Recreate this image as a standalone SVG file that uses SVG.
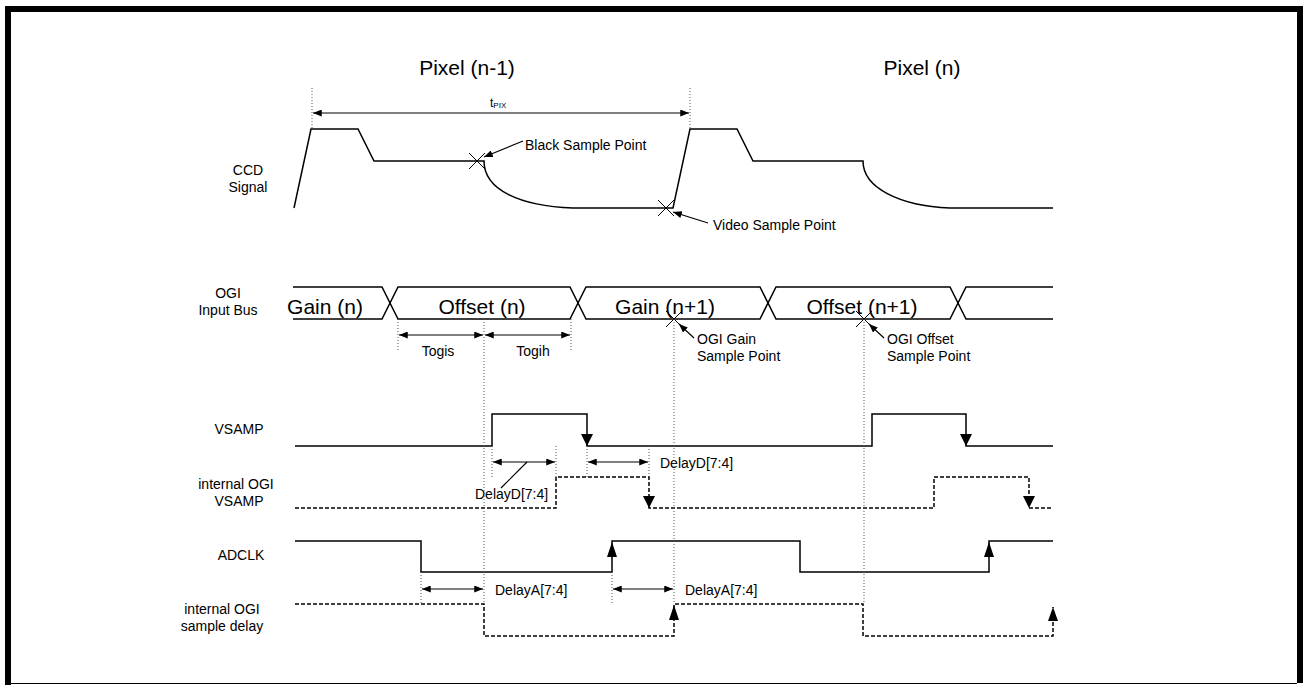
<svg xmlns="http://www.w3.org/2000/svg" width="1304" height="685" viewBox="0 0 1304 685">
<defs>
<style>
text{font-family:"Liberation Sans",Arial,sans-serif;fill:#000}
.big{font-size:21px}
.lbl{font-size:14px}
.mid{text-anchor:middle}
.sig{fill:none;stroke:#000;stroke-width:1.5}
.dash{fill:none;stroke:#000;stroke-width:1.5;stroke-dasharray:4 2}
.dot{fill:none;stroke:#555;stroke-width:1;stroke-dasharray:1 2}
.dim{fill:none;stroke:#000;stroke-width:1.2;marker-start:url(#ah);marker-end:url(#ah)}
.lead{fill:none;stroke:#000;stroke-width:1.2}
.ptr{fill:none;stroke:#000;stroke-width:1.2;marker-end:url(#ah)}
.x{fill:none;stroke:#000;stroke-width:1}
</style>
<marker id="ah" viewBox="0 0 10 8" refX="10" refY="4" markerWidth="9" markerHeight="7" markerUnits="userSpaceOnUse" orient="auto-start-reverse">
<path d="M0,0 L10,4 L0,8 Z" fill="#000"/>
</marker>
</defs>
<rect width="1304" height="685" fill="#fff"/>
<g id="frame">
<rect x="5" y="6" width="6" height="679" fill="#000"/>
<rect x="5" y="6" width="1298" height="6" fill="#000"/>
<rect x="1297" y="6" width="6" height="677" fill="#000"/>
<rect x="11" y="683" width="1286" height="1" fill="#000"/>
</g>
<g id="titles">
<text class="big mid" x="467" y="75">Pixel (n-1)</text>
<text class="big mid" x="922" y="75">Pixel (n)</text>
<text x="490" y="107" font-size="12">t<tspan font-size="8" dy="1">PIX</tspan></text>
</g>
<g id="signal-labels">
<text class="lbl mid" x="248" y="175">CCD</text>
<text class="lbl mid" x="248" y="192">Signal</text>
<text class="lbl mid" x="228" y="298">OGI</text>
<text class="lbl mid" x="228" y="315">Input Bus</text>
<text class="lbl mid" x="239" y="434">VSAMP</text>
<text class="lbl mid" x="236" y="489">internal OGI</text>
<text class="lbl mid" x="239" y="506">VSAMP</text>
<text class="lbl mid" x="241" y="560">ADCLK</text>
<text class="lbl mid" x="222" y="614">internal OGI</text>
<text class="lbl mid" x="222" y="631">sample delay</text>
</g>
<g id="ccd-signal">
<path class="sig" d="M294,208 L311,129 L358,129 L374,161 L484,161 C484,190 520,206 573,208 L673,208 L690,129 L737,129 L753,161 L863,161 C863,188 900,206 950,208 L1053,208"/>
<path class="x" d="M469,153 L485,169 M469,169 L485,153"/>
<path class="x" d="M658,200 L674,216 M658,216 L674,200"/>
<path class="ptr" d="M523,141 L484,157"/>
<text class="lbl" x="525" y="150">Black Sample Point</text>
<path class="ptr" d="M708,223 L673,212"/>
<text class="lbl" x="713" y="230">Video Sample Point</text>
</g>
<g id="ogi-bus">
<path class="sig" d="M293,287 H382 L398,319 H570 L586,287 H760 L776,319 H950 L966,287 H1053"/>
<path class="sig" d="M293,319 H382 L398,287 H570 L586,319 H760 L776,287 H950 L966,319 H1053"/>
<text class="big mid" x="325" y="314">Gain (n)</text>
<text class="big mid" x="482" y="314">Offset (n)</text>
<text class="big mid" x="665" y="314">Gain (n+1)</text>
<text class="big mid" x="862" y="314">Offset (n+1)</text>
<path class="x" d="M666,311 L682,327 M666,327 L682,311"/>
<path class="x" d="M856,311 L872,327 M856,327 L872,311"/>
<path class="ptr" d="M694,338 L679,324"/>
<path class="ptr" d="M884,338 L869,324"/>
<text class="lbl" x="697" y="344">OGI Gain</text>
<text class="lbl" x="697" y="361">Sample Point</text>
<text class="lbl" x="887" y="344">OGI Offset</text>
<text class="lbl" x="887" y="361">Sample Point</text>
<text class="lbl mid" x="438" y="356">Togis</text>
<text class="lbl mid" x="533" y="356">Togih</text>
</g>
<g id="vsamp">
<path class="sig" d="M295,446 H492 V414 H587 V446 H872 V414 H966 V446 H1053"/>
<path d="M581,434 H593 L587,446 Z M960,434 H972 L966,446 Z" fill="#000"/>
</g>
<g id="internal-ogi-vsamp">
<path class="dash" d="M295,508 H556 V477 H649 V508 H934 V477 H1029 V508 H1053"/>
<path d="M643,496 H655 L649,508 Z M1023,496 H1035 L1029,508 Z" fill="#000"/>
<path class="lead" d="M527,462 L501,488"/>
<text class="lbl" x="475" y="499">DelayD[7:4]</text>
<text class="lbl" x="660" y="468">DelayD[7:4]</text>
</g>
<g id="adclk">
<path class="sig" d="M295,541 H421 V572 H612 V541 H800 V572 H989 V541 H1053"/>
<path d="M612,542 L617,557 H607 Z M989,542 L994,557 H984 Z" fill="#000"/>
</g>
<g id="internal-ogi-sample-delay">
<path class="dash" d="M295,604 H484 V636 H674 V604 H863 V636 H1053 V607"/>
<path d="M674,605 L679,620 H669 Z M1053,607 L1058,621 H1048 Z" fill="#000"/>
<text class="lbl" x="495" y="595">DelayA[7:4]</text>
<text class="lbl" x="685" y="595">DelayA[7:4]</text>
</g>
<g id="connectors">
<path class="dot" d="M312,88 V129 M690,88 V129 M398,319 V352 M484,319 V604 M571,319 V352 M674,319 V604 M864,319 V604 M492,446 V477 M556,446 V477 M587,446 V477 M649,446 V477 M421,572 V603 M612,572 V603"/>
<path class="dim" d="M313,113 H689"/>
<path class="dim" d="M399,335 H483"/>
<path class="dim" d="M485,335 H570"/>
<path class="dim" d="M493,462 H555"/>
<path class="dim" d="M588,462 H648"/>
<path class="dim" d="M422,589 H483"/>
<path class="dim" d="M613,589 H673"/>
</g>
</svg>
